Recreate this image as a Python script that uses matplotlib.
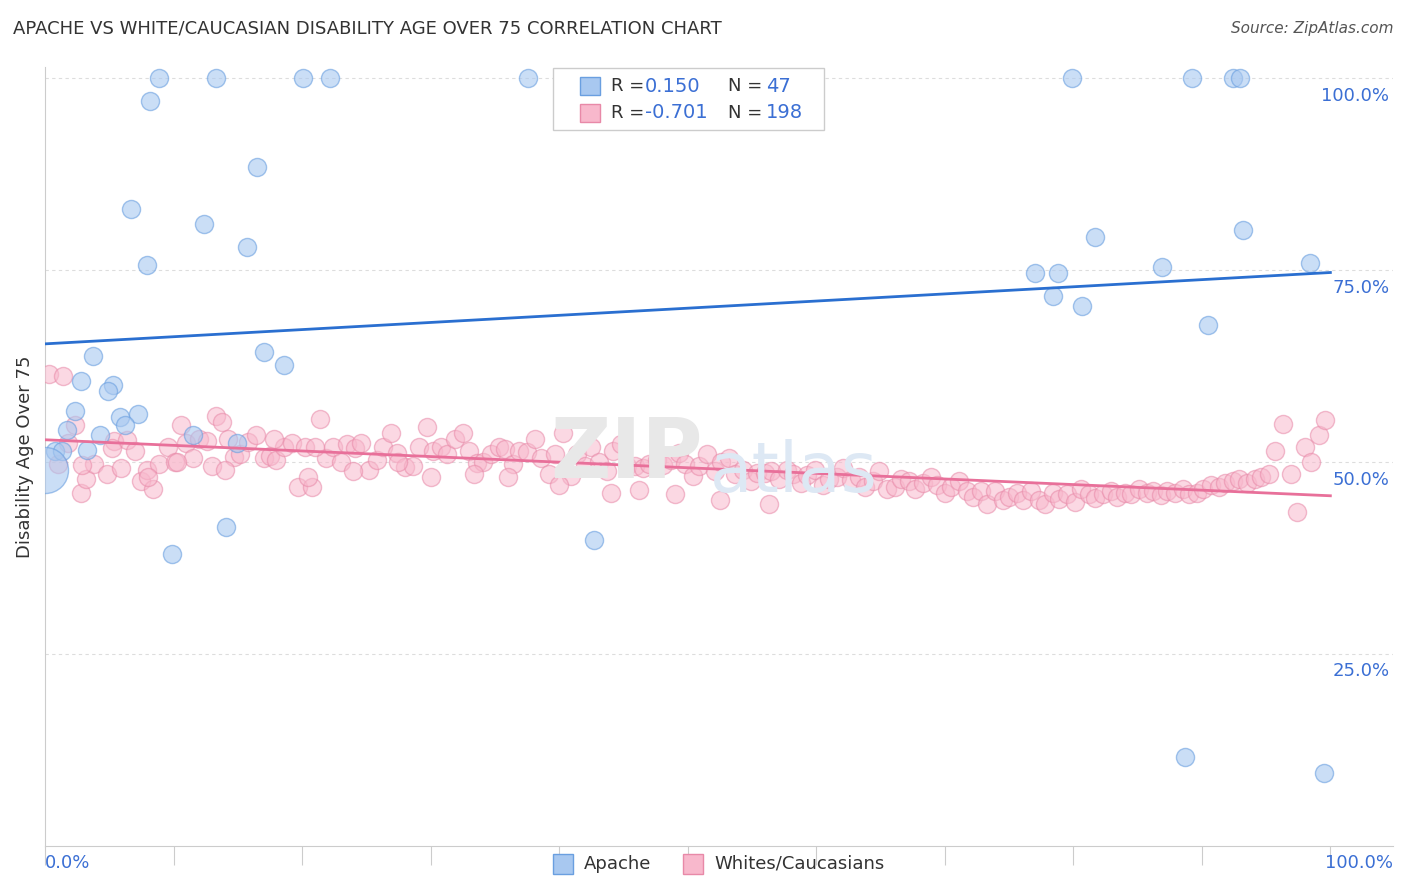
import matplotlib
matplotlib.use("Agg")
import matplotlib.pyplot as plt
import numpy as np

apache_x = [8.9,13.3,20.1,22.2,37.6,79.9,89.2,92.4,93.0,8.2,16.5,6.7,12.4,15.7,7.9,81.7,93.2,77.0,78.8,86.9,98.4,78.4,80.7,90.5,
            17.0,18.6,3.7,2.8,5.3,4.9,2.3,5.8,7.2,1.7,6.2,4.3,14.9,0.8,1.3,3.3,9.9,14.1,42.7,88.7,99.5,11.5]
apache_y = [100,100,100,100,100,100,100,100,100,97,88.5,83,81,78,75.7,79.3,80.3,74.7,74.7,75.4,75.9,71.6,70.3,67.9,
            64.4,62.6,63.8,60.6,60,59.2,56.6,55.9,56.2,54.2,54.8,53.5,52.5,51.5,51.5,51.6,38,41.5,39.8,11.6,9.5,53.5]
apache_big_x = [0.0]
apache_big_y = [49.0]

white_x = [0.3,1.4,1.8,2.3,2.8,3.2,3.8,4.8,5.4,5.9,6.4,7.0,7.5,7.9,8.4,8.9,9.6,10.1,10.6,11.0,11.5,12.0,12.6,13.3,13.8,14.2,14.7,15.2,15.8,
           16.4,17.0,17.5,18.0,18.6,19.2,19.7,20.2,20.8,21.4,21.9,22.4,23.0,23.5,24.1,24.6,25.2,25.8,26.3,26.9,27.4,28.0,28.6,29.1,29.7,30.2,
           30.8,31.3,31.9,32.5,33.0,33.6,34.1,34.7,35.3,35.8,36.4,36.9,37.5,38.1,38.6,39.2,39.7,40.3,40.9,41.4,42.0,42.5,43.1,43.7,44.2,44.8,
           45.3,45.9,46.5,47.0,47.6,48.1,48.7,49.3,49.8,50.4,50.9,51.5,52.1,52.6,53.2,53.7,54.3,54.9,55.4,56.0,56.5,57.1,57.7,58.2,58.8,59.3,
           59.9,60.5,61.0,61.6,62.1,62.7,63.3,63.8,64.4,64.9,65.5,66.1,66.6,67.2,67.7,68.3,68.9,69.4,70.0,70.5,71.1,71.7,72.2,72.8,73.3,73.9,
           74.5,75.0,75.6,76.1,76.7,77.3,77.8,78.4,78.9,79.5,80.1,80.6,81.2,81.7,82.3,82.9,83.4,84.0,84.5,85.1,85.7,86.2,86.8,87.3,87.9,88.5,
           89.0,89.6,90.1,90.7,91.3,91.8,92.4,92.9,93.5,94.1,94.6,95.2,95.7,96.3,96.9,97.4,98.0,98.5,99.1,99.6,
           1.0,2.9,5.2,8.0,10.3,13.0,14.0,17.8,20.5,21.0,24.0,27.5,30.0,33.4,36.0,40.0,44.0,46.2,49.0,52.5,56.3,60.0,64.0,68.0,72.0,76.0,80.0,84.3]
white_y = [61.5,61.2,52.5,54.8,46.0,47.8,49.8,48.5,52.8,49.2,52.9,51.5,47.5,49.0,46.5,49.8,52.0,50.0,54.8,52.5,50.5,53.0,52.8,56.0,55.2,53.0,
           50.6,51.0,52.6,53.5,50.5,50.8,50.2,52.0,52.5,46.8,52.0,46.7,55.6,50.5,52.0,50.0,52.3,51.8,52.5,49.0,50.3,52.0,53.8,51.2,49.3,49.5,
           52.0,54.5,51.5,52.0,51.0,53.0,53.8,51.5,49.9,50.0,51.0,52.0,51.7,49.8,51.5,51.3,53.0,50.5,48.5,51.0,53.8,48.2,51.0,49.5,52.0,50.0,
           48.8,51.5,52.3,49.5,49.5,49.2,49.8,50.3,49.6,50.3,51.2,49.8,48.2,49.5,51.0,48.8,50.0,50.5,48.5,49.0,47.5,48.6,48.6,48.8,47.8,49.0,
           48.5,47.2,48.3,49.0,47.0,47.8,48.0,49.2,47.7,48.0,46.8,47.5,48.8,46.5,46.8,47.8,47.5,46.5,47.2,48.0,47.0,46.0,46.8,47.5,46.2,45.5,
           46.2,44.5,46.2,45.0,45.5,46.0,45.0,46.2,45.0,44.5,46.0,45.2,45.8,44.8,46.5,45.8,45.3,45.8,46.2,45.5,46.0,45.8,46.5,46.0,46.2,45.7,
           46.2,46.0,46.5,45.8,46.0,46.5,47.0,46.8,47.2,47.5,47.8,47.2,47.8,48.0,48.5,51.5,
           55.0,48.5,43.5,52.0,50.0,53.5,55.5,49.8,49.6,51.8,48.0,50.0,49.5,49.0,53.0,48.0,52.0,48.8,50.0,48.0,48.5,48.0,47.0,46.0,46.3,45.8,45.0,44.5]

blue_line = [65.4, 74.7]
pink_line = [52.9, 45.6]

n_w = min(len(white_x), len(white_y))
n_a = min(len(apache_x), len(apache_y))

fig = plt.figure(figsize=(14.06, 8.92), dpi=100)
ax = fig.add_axes([0.032, 0.052, 0.959, 0.873])
ax.set_xlim(0, 104.9)
ax.set_ylim(0, 101.5)

ax.scatter(white_x[:n_w], white_y[:n_w], s=170, facecolor="#f8b8cc", edgecolor="#e889a8", alpha=0.55, linewidth=1, zorder=3)
ax.scatter(apache_x[:n_a], apache_y[:n_a], s=170, facecolor="#a8c8f0", edgecolor="#6a9fe0", alpha=0.6, linewidth=1, zorder=4)
ax.scatter(apache_big_x, apache_big_y, s=1100, facecolor="#a8c8f0", edgecolor="#6a9fe0", alpha=0.6, linewidth=1, zorder=4)
ax.plot([0, 100], blue_line, color="#2a6fd0", lw=2, zorder=5)
ax.plot([0, 100], pink_line, color="#e8709a", lw=2, zorder=5)

for v in [25, 50, 75, 100]:
    ax.axhline(v, color="#dddddd", ls=(0, (3, 3)), lw=0.8, zorder=1)
    ax.text(104.6, v - 2.3, f"{v:.1f}%", color="#3b6fd4", fontsize=13, ha="right", va="center")

for s in ["top", "right"]:
    ax.spines[s].set_visible(False)
ax.spines["left"].set_color("#cccccc")
ax.spines["bottom"].set_color("#cccccc")
ax.set_yticks([])
ax.set_xticks(np.arange(0, 101, 10))
ax.set_xticklabels([])
ax.tick_params(axis="x", length=14, color="#cccccc")
ax.set_ylabel("Disability Age Over 75", fontsize=13, color="#333333", labelpad=8)

fig.text(0.032, 0.032, "0.0%", color="#3b6fd4", fontsize=13, ha="left", va="center")
fig.text(0.991, 0.032, "100.0%", color="#3b6fd4", fontsize=13, ha="right", va="center")
fig.text(0.009, 0.963, "APACHE VS WHITE/CAUCASIAN DISABILITY AGE OVER 75 CORRELATION CHART", fontsize=13, color="#333333")
fig.text(0.991, 0.963, "Source: ZipAtlas.com", fontsize=11, color="#555555", ha="right", style="italic")
fig.text(0.5, 0.49, "ZIP", fontsize=60, color="#e8e8e8", ha="right", va="center", fontweight="bold", zorder=0)
fig.text(0.505, 0.47, "atlas", fontsize=50, color="#dde8f4", ha="left", va="center", zorder=0)

lx0, ly0 = 553/1406, 1 - 130/892
fig.patches.append(plt.Rectangle((lx0, ly0), 271/1406, 62/892, transform=fig.transFigure,
                                 facecolor="white", edgecolor="#cccccc", lw=1, zorder=10))
for i, (fc, ec, r, n) in enumerate([("#a8c8f0", "#6a9fe0", "0.150", "47"), ("#f8b8cc", "#e889a8", "-0.701", "198")]):
    yy = 1 - (86 + 27 * i) / 892
    fig.patches.append(plt.Rectangle((580/1406, yy - 9/892), 20/1406, 18/892, transform=fig.transFigure,
                                     facecolor=fc, edgecolor=ec, zorder=11))
    fig.text(611/1406, yy, "R = ", fontsize=13, color="#333333", va="center", zorder=12)
    fig.text(645/1406, yy, r, fontsize=14, color="#3b6fd4", va="center", zorder=12)
    fig.text(728/1406, yy, "N = ", fontsize=13, color="#333333", va="center", zorder=12)
    fig.text(766/1406, yy, n, fontsize=14, color="#3b6fd4", va="center", zorder=12)

for x0, fc, ec, lab in [(553, "#a8c8f0", "#6a9fe0", "Apache"), (683, "#f8b8cc", "#e889a8", "Whites/Caucasians")]:
    fig.patches.append(plt.Rectangle((x0/1406, 1 - 874/892), 20/1406, 20/892, transform=fig.transFigure,
                                     facecolor=fc, edgecolor=ec))
    fig.text((x0 + 31)/1406, 1 - 864/892, lab, fontsize=13, color="#333333", va="center")

fig.savefig("out.png", dpi=100)
